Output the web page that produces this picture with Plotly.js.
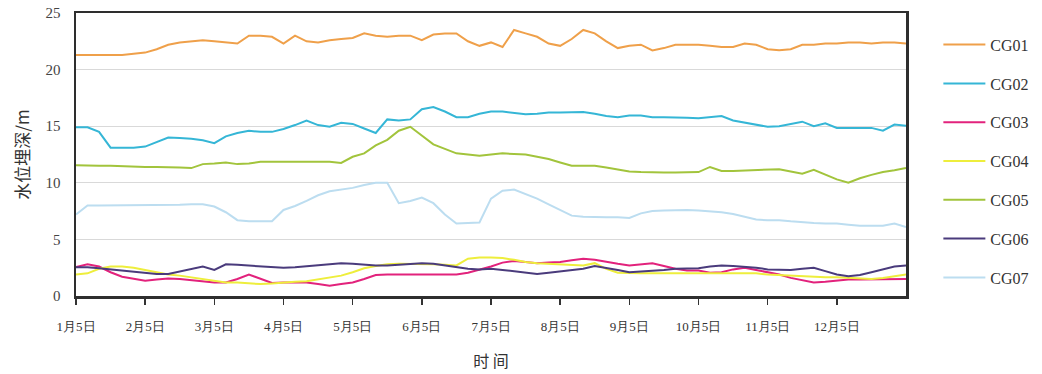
<!DOCTYPE html>
<html>
<head>
<meta charset="utf-8">
<script src="https://cdn.plot.ly/plotly-3.0.1.min.js"></script>
<style>html,body{margin:0;padding:0;background:#fff;}#chart{width:1042px;height:374px;}</style>
</head>
<body>
<div id="chart"></div>
<script>
// Observation dates (categories, 5-day steps)
const dates = [
"1月5日","1月10日","1月15日","1月20日","1月25日","1月30日",
"2月5日","2月10日","2月15日","2月20日","2月25日","2月30日",
"3月5日","3月10日","3月15日","3月20日","3月25日","3月30日",
"4月5日","4月10日","4月15日","4月20日","4月25日","4月30日",
"5月5日","5月10日","5月15日","5月20日","5月25日","5月30日",
"6月5日","6月10日","6月15日","6月20日","6月25日","6月30日",
"7月5日","7月10日","7月15日","7月20日","7月25日","7月30日",
"8月5日","8月10日","8月15日","8月20日","8月25日","8月30日",
"9月5日","9月10日","9月15日","9月20日","9月25日","9月30日",
"10月5日","10月10日","10月15日","10月20日","10月25日","10月30日",
"11月5日","11月10日","11月15日","11月20日","11月25日","11月30日",
"12月5日","12月10日","12月15日","12月20日","12月25日","12月30日","12月31日"];

const tickLabels = ["1月5日","2月5日","3月5日","4月5日","5月5日","6月5日","7月5日","8月5日","9月5日","10月5日","11月5日","12月5日"];

const seriesNames = ["CG01","CG02","CG03","CG04","CG05","CG06","CG07"];
const seriesColors = ["#EFA04A","#35B6D6","#E2227C","#EEEE3C","#A2C43C","#4A3B7C","#BCDDF0"];

const cg01 = [21.3,21.3,21.3,21.3,21.3,21.4,21.5,21.8,22.2,22.4,
22.5,22.6,22.5,22.4,22.3,23.0,23.0,22.9,22.3,23.0,
22.5,22.4,22.6,22.7,22.8,23.2,23.0,22.9,23.0,23.0,
22.6,23.1,23.2,23.2,22.5,22.1,22.4,22.0,23.5,23.2,
22.9,22.3,22.1,22.7,23.5,23.2,22.5,21.9,22.1,22.2,
21.7,21.9,22.2,22.2,22.2,22.1,22.0,22.0,22.3,22.2,
21.8,21.7,21.8,22.2,22.2,22.3,22.3,22.4,22.4,22.3,
22.4,22.4,22.3];

const cg02 = [14.9,14.9,14.5,13.1,13.1,13.1,13.2,13.6,14.0,13.95,
13.9,13.75,13.5,14.1,14.4,14.6,14.5,14.5,14.75,15.1,
15.5,15.1,14.95,15.3,15.2,14.8,14.4,15.6,15.5,15.6,
16.5,16.7,16.3,15.8,15.8,16.1,16.3,16.3,16.15,16.05,
16.1,16.2,16.2,16.2,16.25,16.1,15.9,15.8,15.95,15.95,
15.8,15.8,15.8,15.75,15.7,15.8,15.9,15.5,15.3,15.1,
14.95,15.0,15.2,15.4,15.0,15.25,14.85,14.85,14.9,14.85,
14.6,15.15,15.05];

const cg03 = [2.55,2.8,2.6,2.1,1.7,1.5,1.35,1.45,1.55,1.5,
1.4,1.3,1.2,1.2,1.5,1.9,1.55,1.15,1.2,1.2,
1.2,1.05,0.9,1.05,1.2,1.5,1.85,1.9,1.9,1.9,
1.9,1.9,1.9,1.9,2.05,2.3,2.6,2.95,3.1,3.0,
2.9,2.95,3.0,3.15,3.3,3.2,3.0,2.85,2.7,2.8,
2.9,2.65,2.4,2.25,2.25,2.05,2.1,2.35,2.5,2.3,
2.1,1.9,1.6,1.4,1.2,1.25,1.35,1.45,1.45,1.45,
1.5,1.5,1.5];

const cg04 = [1.9,2.0,2.4,2.6,2.6,2.5,2.3,2.1,1.9,1.8,
1.65,1.5,1.3,1.2,1.2,1.15,1.05,1.1,1.2,1.25,
1.3,1.45,1.65,1.8,2.1,2.45,2.65,2.8,2.85,2.85,
2.85,2.8,2.75,2.7,3.3,3.4,3.4,3.35,3.2,3.0,
2.9,2.85,2.8,2.8,2.7,2.9,2.4,2.05,2.0,2.0,
2.0,2.0,2.0,2.0,2.0,2.0,1.95,1.95,2.0,2.0,
1.9,1.85,1.75,1.7,1.7,1.65,1.65,1.6,1.55,1.5,
1.6,1.75,1.9];

const cg05 = [11.55,11.5,11.5,11.5,11.45,11.45,11.4,11.4,11.4,11.35,
11.3,11.65,11.7,11.8,11.65,11.7,11.85,11.85,11.85,11.85,
11.85,11.85,11.85,11.75,12.3,12.6,13.3,13.8,14.6,14.95,
14.2,13.4,13.0,12.6,12.5,12.4,12.5,12.6,12.55,12.5,
12.3,12.1,11.8,11.5,11.5,11.5,11.35,11.2,11.0,10.95,
10.9,10.9,10.9,10.95,10.95,11.4,11.05,11.05,11.1,11.15,
11.2,11.2,11.0,10.8,11.15,10.7,10.3,10.0,10.4,10.7,
10.95,11.1,11.3];

const cg06 = [2.55,2.55,2.45,2.35,2.25,2.15,2.0,1.95,1.95,2.15,
2.4,2.6,2.3,2.8,2.75,2.7,2.65,2.55,2.5,2.55,
2.65,2.75,2.85,2.9,2.85,2.75,2.7,2.7,2.75,2.8,
2.9,2.85,2.7,2.6,2.4,2.35,2.4,2.3,2.2,2.1,
1.95,2.05,2.15,2.25,2.4,2.65,2.5,2.3,2.1,2.15,
2.2,2.3,2.4,2.4,2.45,2.6,2.7,2.65,2.6,2.5,
2.35,2.3,2.3,2.4,2.5,2.2,1.9,1.75,1.85,2.1,
2.35,2.6,2.7];

const cg07 = [7.2,8.0,8.0,8.0,8.0,8.0,8.0,8.05,8.05,8.05,
8.1,8.1,7.9,7.4,6.7,6.6,6.6,6.6,7.6,7.95,
8.4,8.9,9.25,9.4,9.55,9.8,10.0,10.0,8.2,8.4,
8.7,8.2,7.2,6.4,6.45,6.5,8.6,9.3,9.4,9.0,
8.6,8.1,7.6,7.1,7.0,6.95,6.95,6.95,6.9,7.3,
7.5,7.55,7.6,7.6,7.55,7.5,7.4,7.25,7.0,6.75,
6.7,6.7,6.6,6.5,6.45,6.4,6.4,6.3,6.2,6.2,
6.2,6.4,6.1];

const seriesValues = [cg01,cg02,cg03,cg04,cg05,cg06,cg07];

const traces = seriesNames.map((name, i) => ({
  type: 'scatter',
  mode: 'lines',
  name: name,
  legendgroup: name,
  x: dates,
  y: seriesValues[i],
  line: {color: seriesColors[i], width: 2},
  hoverinfo: 'x+y+name'
}));

const serif = '"Liberation Serif", "Times New Roman", Times, Tinos, "Noto Serif", "DejaVu Serif", serif';
const cjk = '"Noto Sans CJK SC", sans-serif';

const layout = {
  width: 1042,
  height: 374,
  margin: {l: 76, r: 136, t: 13, b: 78, pad: 0, autoexpand: false},
  paper_bgcolor: '#ffffff',
  plot_bgcolor: '#ffffff',
  showlegend: true,
  legend: {
    x: 1.039, xanchor: 'left',
    y: 0.948, yanchor: 'top',
    tracegroupgap: 15,
    font: {family: serif, size: 16, color: '#333333'},
    bgcolor: 'rgba(0,0,0,0)',
    itemwidth: 42
  },
  xaxis: {
    type: 'category',
    categoryorder: 'array',
    categoryarray: dates,
    range: [0, dates.length - 1],
    tickmode: 'array',
    tickvals: tickLabels,
    ticktext: tickLabels,
    ticks: 'outside',
    ticklen: 6,
    tickwidth: 1.5,
    tickcolor: '#333333',
    ticklabelstandoff: 11,
    tickfont: {family: serif, size: 13, color: '#333333'},
    showgrid: false,
    showline: true,
    mirror: true,
    linecolor: '#2e2e2e',
    linewidth: 2.5,
    zeroline: false,
    title: {text: '时 间', font: {family: cjk, size: 16, color: '#333333'}, standoff: 23}
  },
  yaxis: {
    range: [0, 25],
    tickmode: 'array',
    tickvals: [0, 5, 10, 15, 20, 25],
    ticks: '',
    ticklabelstandoff: 10,
    tickfont: {family: serif, size: 15, color: '#444444'},
    showgrid: true,
    gridcolor: '#d9d9d9',
    gridwidth: 1,
    showline: true,
    mirror: true,
    linecolor: '#2e2e2e',
    linewidth: 2.5,
    zeroline: false,
    title: {text: '水位埋深/m', font: {family: cjk, size: 17, color: '#333333'}, standoff: 12}
  },
  font: {family: serif, color: '#333333'}
};

Plotly.newPlot('chart', traces, layout, {displayModeBar: false, staticPlot: true});
</script>
</body>
</html>
